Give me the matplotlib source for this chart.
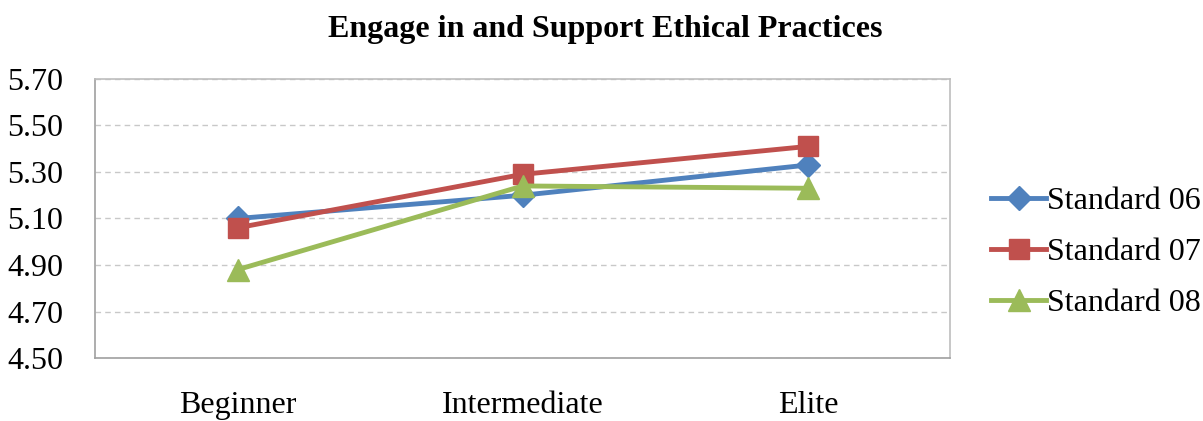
import matplotlib.pyplot as plt

# Mean scores by level for each standard
levels = ['Beginner', 'Intermediate', 'Elite']
standard_06 = [5.10, 5.20, 5.33]
standard_07 = [5.06, 5.29, 5.41]
standard_08 = [4.88, 5.24, 5.23]
y_ticks = [4.50, 4.70, 4.90, 5.10, 5.30, 5.50, 5.70]

plt.rcParams['font.family'] = ['Liberation Serif', 'DejaVu Serif']

fig = plt.figure(figsize=(12.03, 4.21), dpi=100)
ax = fig.add_axes([0.079, 0.1496, 0.711, 0.6628])

x = range(len(levels))
ax.plot(x, standard_06, color='#4F81BD', marker='D', markersize=12, linewidth=3.5, label='Standard 06')
ax.plot(x, standard_07, color='#C0504D', marker='s', markersize=14.5, linewidth=3.5, label='Standard 07')
ax.plot(x, standard_08, color='#9BBB59', marker='^', markersize=16, linewidth=3.5, label='Standard 08')

ax.set_xlim(-0.5, 2.5)
ax.set_ylim(4.50, 5.70)
ax.set_yticks(y_ticks)
ax.set_yticklabels([f'{v:.2f}' for v in y_ticks])
ax.set_xticks(list(x))
ax.set_xticklabels(levels)
ax.tick_params(axis='both', length=0, labelsize=23)
ax.tick_params(axis='y', pad=23)
ax.tick_params(axis='x', pad=24)

ax.grid(axis='y', color='#C8C8C8', linestyle=(0, (4, 3)), linewidth=1)
ax.set_axisbelow(True)
for side in ['top', 'right', 'bottom']:
    ax.spines[side].set_color('#BEBEBE')
ax.spines['bottom'].set_color('#A0A0A0')
ax.spines['left'].set_color('#A0A0A0')
for s in ax.spines.values():
    s.set_linewidth(1.2)

fig.suptitle('Engage in and Support Ethical Practices', x=0.503, y=0.965,
             fontsize=23, fontweight='bold')

ax.legend(loc='center left', bbox_to_anchor=(1.048, 0.379), frameon=False,
          fontsize=23, handlelength=1.7, handletextpad=0.05, labelspacing=0.68,
          borderaxespad=0, borderpad=0)

fig.savefig('out.png', dpi=100)
